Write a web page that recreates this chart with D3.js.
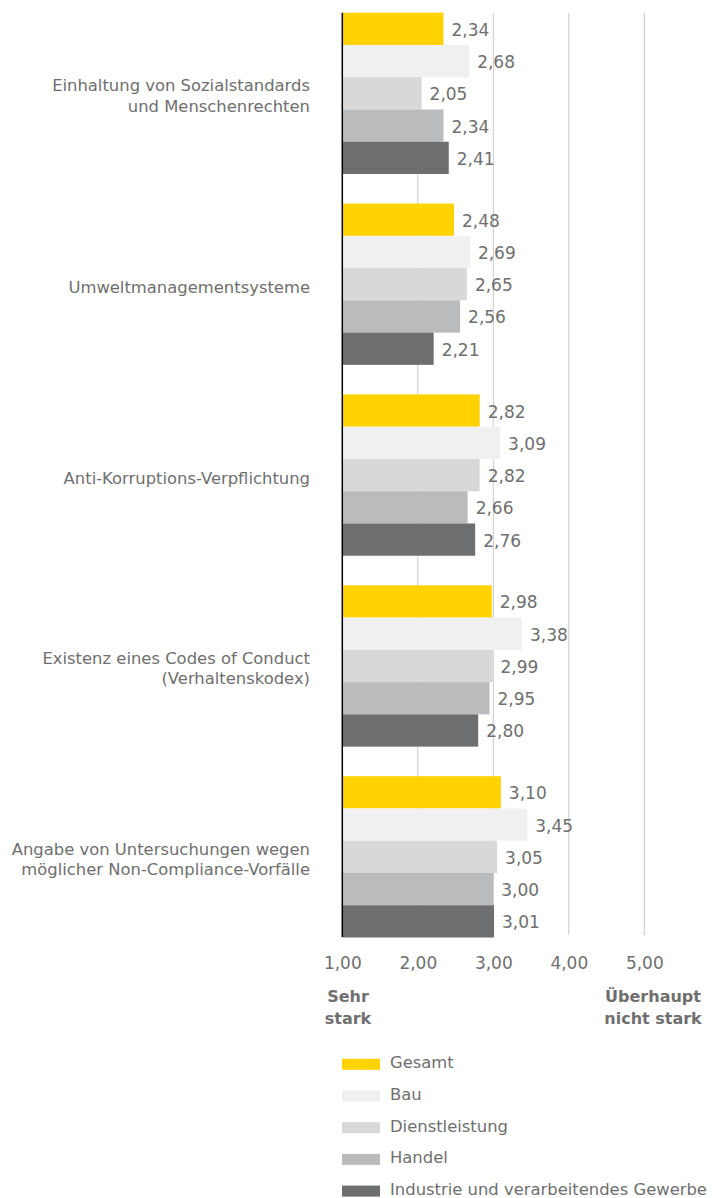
<!DOCTYPE html>
<html>
<head>
<meta charset="utf-8">
<script src="https://cdn.jsdelivr.net/npm/d3@7"></script>
<style>
  body { margin: 0; background: #fff; }
  text { font-family: "DejaVu Sans", sans-serif; fill: #6f6f6f; }
</style>
</head>
<body>
<div id="chart"></div>
<script>
// categories (label lines) and series
var categories = [
  ["Einhaltung von Sozialstandards", "und Menschenrechten"],
  ["Umweltmanagementsysteme"],
  ["Anti-Korruptions-Verpflichtung"],
  ["Existenz eines Codes of Conduct", "(Verhaltenskodex)"],
  ["Angabe von Untersuchungen wegen", "möglicher Non-Compliance-Vorfälle"]
];
var seriesNames = ["Gesamt", "Bau", "Dienstleistung", "Handel", "Industrie und verarbeitendes Gewerbe"];

var gesamt    = [2.34, 2.48, 2.82, 2.98, 3.10];
var bau       = [2.68, 2.69, 3.09, 3.38, 3.45];
var dienst    = [2.05, 2.65, 2.82, 2.99, 3.05];
var handel    = [2.34, 2.56, 2.66, 2.95, 3.00];
var industrie = [2.41, 2.21, 2.76, 2.80, 3.01];

var xTicks = [1, 2, 3, 4, 5];
var colors = ["#ffd200", "#f0f0f0", "#d8d8d9", "#babbbd", "#6d6e70"];

var allSeries = [gesamt, bau, dienst, handel, industrie];

var width = 712, height = 1198;

var svg = d3.select("#chart").append("svg")
  .attr("width", width)
  .attr("height", height);

var de = d3.formatLocale({decimal: ",", thousands: ".", grouping: [3], currency: ["", " €"]});
var fmt = de.format(".2f");

// scales
var xScale = d3.scaleLinear().domain([1, 5]).range([342.3, 644.3]);

var yScale = d3.scaleBand()
  .domain(d3.range(categories.length))
  .range([12.7, 937.5])
  .paddingInner(0.155)
  .paddingOuter(0);

var ySub = d3.scaleBand()
  .domain(d3.range(seriesNames.length))
  .range([0, yScale.bandwidth()]);

// grid lines
svg.append("g").attr("class", "grid")
  .selectAll("line")
  .data(xTicks.slice(1))
  .enter().append("line")
  .attr("x1", function(d) { return xScale(d); })
  .attr("x2", function(d) { return xScale(d); })
  .attr("y1", 13)
  .attr("y2", 935)
  .style("stroke", "#c8c8c8")
  .style("stroke-width", 1);

// bars per group
var groups = svg.selectAll(".grp")
  .data(categories)
  .enter().append("g")
  .attr("class", "grp")
  .attr("transform", function(d, i) { return "translate(0," + yScale(i) + ")"; });

groups.each(function(cat, ci) {
  var g = d3.select(this);
  var vals = allSeries.map(function(s) { return s[ci]; });

  g.selectAll("rect")
    .data(vals)
    .enter().append("rect")
    .attr("x", xScale(1))
    .attr("y", function(d, i) { return ySub(i); })
    .attr("width", function(d) { return xScale(d) - xScale(1); })
    .attr("height", ySub.bandwidth())
    .style("fill", function(d, i) { return colors[i]; });

  g.selectAll("text.val")
    .data(vals)
    .enter().append("text")
    .attr("class", "val")
    .attr("x", function(d) { return xScale(d) + 8; })
    .attr("y", function(d, i) { return ySub(i) + ySub.bandwidth() / 2 + 7; })
    .style("font-size", "17px")
    .text(function(d) { return fmt(d); });

  // category label
  var mid = yScale.bandwidth() / 2;
  var lbl = g.append("text")
    .attr("text-anchor", "end")
    .style("font-size", "16.4px");
  lbl.selectAll("tspan")
    .data(cat)
    .enter().append("tspan")
    .attr("x", 310)
    .attr("y", function(d, i) {
      return cat.length === 1 ? mid + 9 : mid - 2 + i * 20.5;
    })
    .text(function(d) { return d; });
});

// y axis line
svg.append("line")
  .attr("x1", xScale(1)).attr("x2", xScale(1))
  .attr("y1", 12.7).attr("y2", 937)
  .style("stroke", "#000")
  .style("stroke-width", 1.5);

// x axis labels
var xAxis = svg.append("g")
  .attr("class", "x axis")
  .attr("transform", "translate(0,950)")
  .call(d3.axisBottom(xScale).tickValues(xTicks).tickSize(0).tickFormat(fmt));
xAxis.select(".domain").remove();
xAxis.selectAll("text")
  .attr("y", 19)
  .attr("dy", 0)
  .attr("fill", null)
  .style("font-size", "17px")
  .style("font-family", "DejaVu Sans, sans-serif");

// axis end captions
function caption(x, lines) {
  var t = svg.append("text")
    .attr("text-anchor", "middle")
    .style("font-size", "16px")
    .style("font-weight", "bold");
  t.selectAll("tspan").data(lines).enter().append("tspan")
    .attr("x", x)
    .attr("y", function(d, i) { return 1002 + i * 22; })
    .text(function(d) { return d; });
}
caption(348, ["Sehr", "stark"]);
caption(653, ["Überhaupt", "nicht stark"]);

// legend
var legend = svg.selectAll(".legend")
  .data(seriesNames)
  .enter().append("g")
  .attr("class", "legend")
  .attr("transform", function(d, i) { return "translate(342," + (1068.3 + i * 31.7) + ")"; });

legend.append("rect")
  .attr("x", 0)
  .attr("y", -9.5)
  .attr("width", 38)
  .attr("height", 11)
  .style("fill", function(d, i) { return colors[i]; });

legend.append("text")
  .attr("x", 48)
  .attr("y", 0)
  .style("font-size", "16.4px")
  .text(function(d) { return d; });
</script>
</body>
</html>
